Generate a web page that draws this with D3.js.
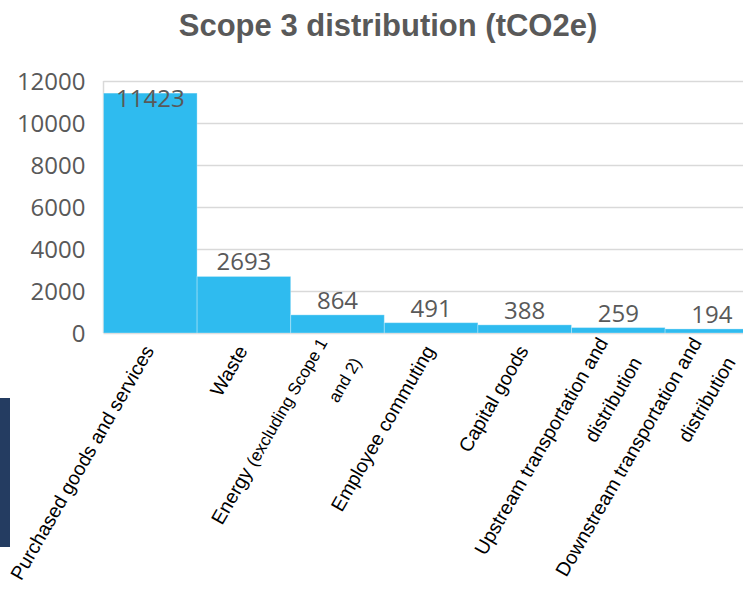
<!DOCTYPE html>
<html>
<head>
<meta charset="utf-8">
<script src="https://cdn.jsdelivr.net/npm/d3@7"></script>
<style>
  body { margin: 0; background: #fff; }
  svg { display: block; }
</style>
</head>
<body>
<script>

// data
var categories = [
    'Purchased goods and services',
    'Waste',
    'Energy (excluding Scope 1 and 2)',
    'Employee commuting',
    'Capital goods',
    'Upstream transportation and distribution',
    'Downstream transportation and distribution'
];
var values = [11423, 2693, 864, 491, 388, 259, 194];
var yTicks = [0, 2000, 4000, 6000, 8000, 10000, 12000];

// label lines as drawn under the axis (text + size)
var labelLines = [
    [[{ t: 'Purchased goods and services', s: 19.5 }]],
    [[{ t: 'Waste', s: 19.5 }]],
    [[{ t: 'Energy ', s: 19.5 }, { t: '(excluding Scope 1', s: 17 }], [{ t: 'and 2)', s: 17 }]],
    [[{ t: 'Employee commuting', s: 19.5 }]],
    [[{ t: 'Capital goods', s: 19.5 }]],
    [[{ t: 'Upstream transportation and', s: 19.5 }], [{ t: 'distribution', s: 19.5 }]],
    [[{ t: 'Downstream transportation and', s: 19.5 }], [{ t: 'distribution', s: 19.5 }]]
];

var body = d3.select('body');

var svg = body.append('svg')
    .attr('width', 743)
    .attr('height', 592);

// left dark strip
svg.append('rect')
    .attr('x', 0).attr('y', 398)
    .attr('width', 10).attr('height', 149)
    .attr('fill', '#243c61');

// title
svg.append('text')
    .attr('x', 388)
    .attr('y', 36)
    .attr('text-anchor', 'middle')
    .style('font-family', '"Liberation Sans", Arial, sans-serif')
    .style('font-weight', 'bold')
    .style('font-size', '31px')
    .attr('fill', '#595959')
    .text('Scope 3 distribution (tCO2e)');

var plotLeft = 103.5, plotTop = 81, plotBottom = 333;
var band = 93.6;

var x = d3.scaleBand()
    .domain(categories)
    .range([plotLeft, plotLeft + band * categories.length])
    .padding(0);

var y = d3.scaleLinear()
    .domain([0, 12000])
    .range([plotBottom, plotTop]);

// gridlines
svg.append('g')
    .attr('transform', 'translate(' + plotLeft + ',0)')
    .call(d3.axisLeft(y).tickValues(yTicks).tickSize(-(band * 7)).tickFormat(''))
    .call(g => g.select('.domain').remove())
    .selectAll('line')
    .attr('stroke', '#d9d9d9')
    .attr('stroke-width', 1.5);

// left border
svg.append('line')
    .attr('x1', plotLeft).attr('x2', plotLeft)
    .attr('y1', plotTop).attr('y2', plotBottom)
    .attr('stroke', '#d9d9d9')
    .attr('stroke-width', 1.5);

// y axis labels
var yAxis = svg.append('g')
    .attr('transform', 'translate(' + plotLeft + ',0)')
    .call(d3.axisLeft(y).tickValues(yTicks).tickSize(0).tickPadding(18).tickFormat(d3.format('d')));
yAxis.select('.domain').remove();
yAxis.selectAll('text')
    .style('font-family', '"Open Sans", sans-serif')
    .style('font-size', '24px')
    .attr('fill', '#595959')
    .attr('dy', '0.36em');

// bars
svg.selectAll('.bar')
    .data(values)
    .enter().append('rect')
    .attr('class', 'bar')
    .attr('x', (d, i) => x(categories[i]))
    .attr('y', d => y(d))
    .attr('width', x.bandwidth())
    .attr('height', d => plotBottom - y(d))
    .attr('fill', '#2fbbef')
    .attr('stroke', 'rgba(255,255,255,0.3)')
    .attr('stroke-width', 1);

// value labels
svg.selectAll('.val')
    .data(values)
    .enter().append('text')
    .attr('class', 'val')
    .attr('x', (d, i) => x(categories[i]) + x.bandwidth() / 2)
    .attr('y', d => Math.max(y(d) - 6, plotTop + 26))
    .attr('text-anchor', 'middle')
    .style('font-family', '"Open Sans", sans-serif')
    .style('font-size', '24px')
    .attr('fill', '#595959')
    .text(d => d);

// category labels, rotated
var lineGap = 39;
labelLines.forEach(function (lines, i) {
    var cx = x(categories[i]) + x.bandwidth() / 2;
    var g = svg.append('g')
        .attr('transform', 'translate(' + cx + ',348) rotate(-60)');
    var n = lines.length;
    lines.forEach(function (parts, j) {
        var base = n === 1 ? 5 : -11 + j * lineGap;
        var t = g.append('text')
            .attr('x', 0)
            .attr('y', base)
            .attr('text-anchor', 'end')
            .style('font-family', '"Liberation Sans", Arial, sans-serif')
            .attr('fill', '#000');
        parts.forEach(function (p) {
            t.append('tspan')
                .style('font-size', p.s + 'px')
                .text(p.t);
        });
    });
});

</script>
</body>
</html>
